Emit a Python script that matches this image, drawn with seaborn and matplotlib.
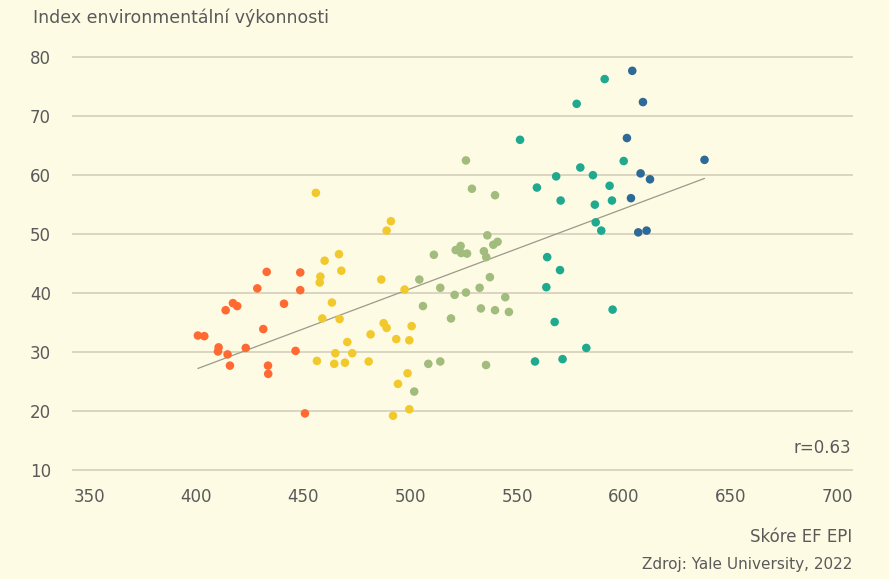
import matplotlib
matplotlib.use("Agg")

import matplotlib.pyplot as plt
import numpy as np
import pandas as pd
import seaborn as sns

# Skóre EF EPI (x) vs. Index environmentální výkonnosti (y), grouped by colour band
orange_x = [432.9, 448.6, 428.5, 448.6, 417.1, 419.1, 413.7, 441.0, 431.3, 400.7,
            403.7, 410.4, 410.1, 414.6, 423.1, 446.4, 415.7, 433.5, 433.6, 450.8]
orange_y = [43.6, 43.5, 40.8, 40.5, 38.3, 37.8, 37.1, 38.2, 33.9, 32.8,
            32.7, 30.8, 30.1, 29.6, 30.7, 30.2, 27.7, 27.7, 26.3, 19.6]

yellow_x = [455.9, 491.0, 489.0, 466.7, 460.0, 467.8, 458.0, 457.7, 486.5, 497.4,
            463.4, 458.9, 467.0, 487.6, 489.0, 500.7, 481.5, 470.6, 493.5, 499.6,
            465.0, 472.9, 456.4, 464.5, 469.5, 480.6, 498.8, 494.3, 499.6, 492.0]
yellow_y = [57.0, 52.2, 50.6, 46.6, 45.5, 43.8, 42.8, 41.8, 42.3, 40.6,
            38.4, 35.7, 35.6, 34.9, 34.1, 34.4, 33.0, 31.7, 32.2, 32.0,
            29.8, 29.8, 28.5, 28.0, 28.2, 28.4, 26.4, 24.6, 20.3, 19.2]

green_x = [526.1, 528.9, 539.7, 536.1, 540.9, 538.9, 523.6, 521.3, 523.9, 526.6,
           534.5, 535.6, 511.1, 504.3, 537.3, 514.1, 520.8, 526.1, 532.5, 544.5,
           506.0, 533.1, 539.7, 546.2, 519.1, 508.5, 514.1, 535.5, 501.9]
green_y = [62.5, 57.7, 56.6, 49.8, 48.7, 48.2, 48.0, 47.3, 46.8, 46.7,
           47.1, 46.1, 46.5, 42.3, 42.7, 40.9, 39.7, 40.1, 40.9, 39.3,
           37.8, 37.4, 37.1, 36.8, 35.7, 28.0, 28.4, 27.8, 23.3]

teal_x = [599.9, 579.6, 568.3, 585.5, 559.3, 593.3, 570.4, 594.4, 586.4, 586.8,
          589.4, 564.1, 570.1, 591.0, 577.9, 551.4, 563.7, 594.7, 567.6, 582.4,
          558.4, 571.3]
teal_y = [62.4, 61.3, 59.8, 60.0, 57.9, 58.2, 55.7, 55.7, 55.0, 52.0,
          50.6, 46.1, 43.9, 76.3, 72.1, 66.0, 41.0, 37.2, 35.1, 30.7,
          28.4, 28.8]

blue_x = [603.9, 608.9, 601.4, 637.7, 607.8, 612.2, 603.3, 606.7, 610.6]
blue_y = [77.7, 72.4, 66.3, 62.6, 60.3, 59.3, 56.1, 50.3, 50.6]

groups = ["orange", "yellow", "green", "teal", "blue"]
colors = ["#FF6A33", "#F2C92C", "#A2BC7E", "#1FA98F", "#2E6A98"]

x_ticks = [350, 400, 450, 500, 550, 600, 650, 700]
y_ticks = [10, 20, 30, 40, 50, 60, 70, 80]

bg = "#FEFBE5"
text_col = "#5A5A5A"
grid_col = "#D9D5C2"

frames = []
for name, xs, ys in zip(groups,
                        [orange_x, yellow_x, green_x, teal_x, blue_x],
                        [orange_y, yellow_y, green_y, teal_y, blue_y]):
    frames.append(pd.DataFrame({"ef": xs, "epi": ys, "group": name}))
df = pd.concat(frames, ignore_index=True)

sns.set_theme(style="white")
plt.rcParams["font.family"] = ["DejaVu Sans"]

fig = plt.figure(figsize=(8.89, 5.79), dpi=100, facecolor=bg)
ax = fig.add_axes([0.0807, 0.1832, 0.8789, 0.7230])
ax.set_facecolor(bg)

sns.regplot(data=df, x="ef", y="epi", scatter=False, ci=None, truncate=True,
            line_kws={"color": "#9A9A8A", "lw": 0.9}, ax=ax)
sns.scatterplot(data=df, x="ef", y="epi", hue="group", hue_order=groups,
                palette=colors, s=38, linewidth=0, legend=False, ax=ax, zorder=3)

ax.set_xlim(341.7, 707.2)
ax.set_ylim(9.5, 80.5)
ax.set_xticks(x_ticks)
ax.set_yticks(y_ticks)
ax.yaxis.grid(True, color=grid_col, lw=1.4)
ax.xaxis.grid(False)
ax.set_axisbelow(True)
for s in ax.spines.values():
    s.set_visible(False)
ax.tick_params(axis="both", length=0, labelsize=12, colors=text_col)
ax.tick_params(axis="x", pad=11)
ax.tick_params(axis="y", pad=15)
ax.set_xlabel("")
ax.set_ylabel("")

ax.text(706.5, 13.7, "r=0.63", ha="right", va="center", fontsize=12, color=text_col)

fig.text(33 / 889, 1 - 18 / 579, "Index environmentální výkonnosti",
         ha="left", va="center", fontsize=12.5, color=text_col)
fig.text(852 / 889, 1 - 537 / 579, "Skóre EF EPI",
         ha="right", va="center", fontsize=12, color=text_col)
fig.text(852 / 889, 1 - 565 / 579, "Zdroj: Yale University, 2022",
         ha="right", va="center", fontsize=11, color=text_col)

fig.savefig("out.png", dpi=100, facecolor=bg)
plt.close(fig)
